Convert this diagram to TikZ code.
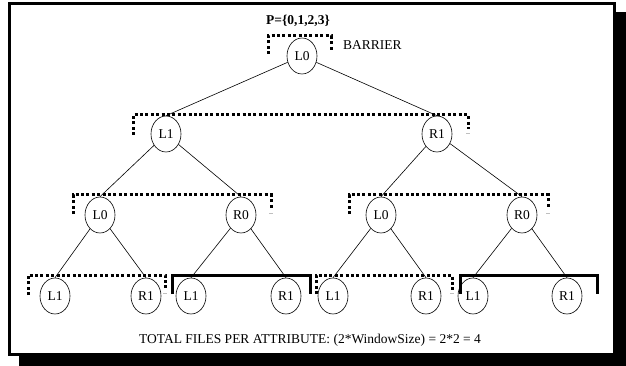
\documentclass[tikz,border=0pt]{standalone}
\usepackage{fontspec}
\setmainfont{Liberation Serif}
\usetikzlibrary{shapes.geometric}
\tikzset{
  treenode/.style={draw, ellipse, line width=0.6pt, inner sep=0pt,
    minimum width=30pt, minimum height=36pt,
    font=\fontsize{13.5}{15}\selectfont},
  edge/.style={line width=0.6pt},
  dotbar/.style={line width=3pt, dash pattern=on 3pt off 2.4pt},
  solidbar/.style={line width=3pt},
  tick/.style={gray!50, line width=0.8pt},
  lbl/.style={font=\fontsize{13.5}{15}\selectfont, inner sep=0pt}
}
\begin{document}
\begin{tikzpicture}[x=1pt, y=-1pt]
\useasboundingbox (0,0) rectangle (626,366);
% shadowed frame
\fill[black] (19,12) rectangle (626,366);
\draw[line width=3pt, fill=white] (9.5,3.5) rectangle (614.5,354);

% tree nodes
\node[treenode] (r)   at (302,56)  {L0};
\node[treenode] (a)   at (166,134) {L1};
\node[treenode] (b)   at (437,134) {R1};
\node[treenode] (c)   at (100,215) {L0};
\node[treenode] (d)   at (241,215) {R0};
\node[treenode] (e)   at (381,215) {L0};
\node[treenode] (f)   at (522,215) {R0};
\node[treenode] (c1)  at (55,296)  {L1};
\node[treenode] (c2)  at (146,296) {R1};
\node[treenode] (d1)  at (191,296) {L1};
\node[treenode] (d2)  at (286,296) {R1};
\node[treenode] (e1)  at (333,296) {L1};
\node[treenode] (e2)  at (426,296) {R1};
\node[treenode] (f1)  at (473,296) {L1};
\node[treenode] (f2)  at (567,296) {R1};

% edges
\foreach \p/\q in {r/a, r/b, a/c, a/d, b/e, b/f,
                   c/c1, c/c2, d/d1, d/d2, e/e1, e/e2, f/f1, f/f2}
  \draw[edge] (\p) -- (\q.north);

% barriers
\draw[dotbar] (268,54) -- (268,36) -- (331,36) -- (331,52);
\draw[dotbar] (133,135) -- (133,115) -- (468,115) -- (468,129);
\draw[tick] (466,133) -- (470,133);
\draw[dotbar] (73,214) -- (73,195) -- (271,195) -- (271,208);
\draw[tick] (269,213) -- (273,213);
\draw[dotbar] (349,214) -- (349,195) -- (548,195) -- (548,208);
\draw[tick] (546,213) -- (550,213);
\draw[dotbar] (28,295) -- (28,275) -- (165,275) -- (165,290);
\draw[tick] (163,293) -- (167,293);
\draw[solidbar] (172,294) -- (172,275) -- (310,275) -- (310,294);
\draw[dotbar] (316,294) -- (316,275) -- (452,275) -- (452,290);
\draw[tick] (450,293) -- (454,293);
\draw[solidbar] (460,294) -- (460,275) -- (597,275) -- (597,294);

% labels
\node[lbl, font=\fontsize{13.5}{15}\selectfont\bfseries] (ptitle) at (298,21) {P=\{0,1,2,3\}};
\node[lbl, anchor=west] (barrier) at (343,45) {BARRIER};
\node[lbl] (total) at (310,340) {TOTAL FILES PER ATTRIBUTE: (2*WindowSize) = 2*2 = 4};
\end{tikzpicture}
\end{document}
